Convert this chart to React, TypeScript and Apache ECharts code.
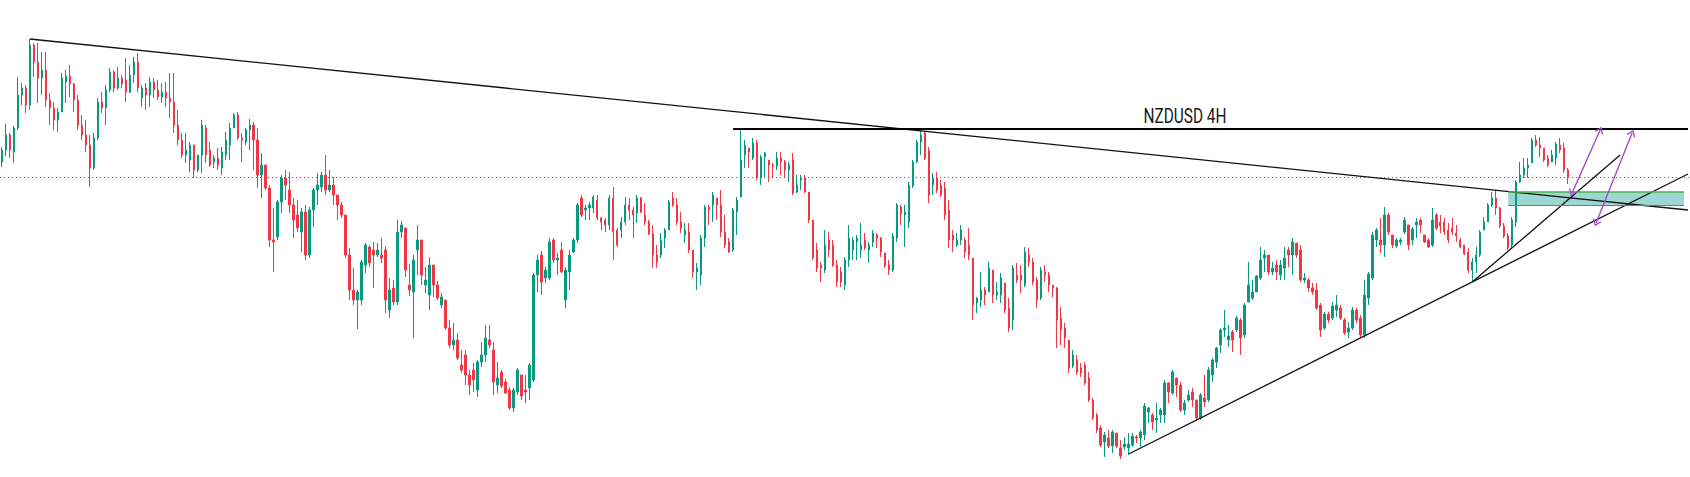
import React, { useEffect, useRef } from "react";
import * as echarts from "echarts";

// Chart title
const titleText = "NZDUSD 4H";

// 4H candles, prices in pips (price x 10000): [open, close, low, high]
const legA = [
  [6338,6350,6333,6353],[6350,6365,6344,6376],[6365,6350,6342,6367],[6348,6372,6337,6374],[6372,6405,6370,6423],
  [6405,6412,6395,6417],[6412,6395,6387,6415],[6395,6455,6390,6461],[6455,6438,6423,6457],[6438,6422,6397,6457],
  [6422,6430,6405,6448],[6430,6400,6393,6448],[6400,6392,6375,6407],[6392,6380,6370,6398],[6380,6388,6368,6392],
  [6388,6422,6388,6427],[6418,6424,6397,6430],[6424,6416,6403,6435],[6416,6400,6388,6417],[6400,6375,6370,6405],
  [6375,6365,6360,6385],[6365,6355,6348,6380],[6355,6332,6313,6365],[6332,6362,6330,6367],[6362,6398,6360,6402],
  [6398,6392,6387,6408],[6392,6410,6375,6415],[6410,6428,6408,6432],[6428,6412,6408,6430],[6412,6422,6410,6433],
  [6422,6416,6412,6425],[6420,6408,6398,6442],[6408,6425,6407,6435],[6425,6438,6417,6443],[6438,6412,6408,6447],
  [6402,6412,6393,6415],[6412,6405,6390,6417],[6405,6418,6393,6423],[6418,6410,6402,6422],[6410,6403,6400,6420],
  [6403,6408,6397,6417],[6408,6402,6393,6418],[6402,6398,6382,6427],[6398,6375,6367,6427],[6375,6360,6355,6390],
  [6360,6345,6342,6367],[6345,6350,6337,6367],[6340,6355,6328,6358],[6355,6330,6322,6355],[6330,6345,6328,6345],
];
const legB = [
  [6345,6375,6327,6380],[6372,6345,6337,6375],[6350,6335,6333,6358],[6338,6342,6332,6345],[6342,6335,6330,6352],
  [6332,6348,6325,6353],[6345,6360,6340,6368],[6355,6372,6340,6377],[6372,6385,6372,6387],[6385,6362,6360,6388],
  [6362,6360,6338,6367],[6358,6370,6355,6372],[6370,6375,6350,6381],[6375,6360,6330,6378],[6360,6325,6312,6372],
  [6325,6335,6302,6347],[6335,6312,6310,6335],[6312,6260,6253,6315],[6260,6258,6228,6292],[6263,6298,6260,6300],
  [6298,6322,6287,6325],[6322,6315,6300,6330],[6310,6295,6287,6328],[6295,6280,6262,6302],[6285,6272,6268,6300],
  [6268,6288,6248,6292],[6288,6245,6240,6295],[6245,6290,6242,6293],[6290,6310,6273,6312],[6310,6315,6295,6327],
  [6313,6325,6308,6328],[6325,6310,6305,6345],[6310,6315,6308,6330],[6315,6305,6295,6323],[6305,6295,6280,6305],
  [6295,6285,6282,6298],[6285,6245,6242,6285],[6245,6210,6200,6252],[6210,6200,6195,6232],[6200,6208,6171,6210],
  [6200,6238,6195,6240],[6235,6255,6227,6257],[6253,6237,6233,6255],[6250,6245,6212,6258],[6245,6250,6243,6257],
  [6245,6242,6237,6262],[6250,6200,6187,6254],[6190,6210,6182,6222],[6212,6198,6195,6220],[6198,6268,6195,6280],
];
const legC = [
  [6268,6275,6262,6279],[6272,6230,6223,6272],[6215,6210,6204,6236],[6208,6240,6162,6245],[6250,6260,6225,6275],
  [6260,6225,6215,6260],[6215,6220,6207,6233],[6205,6235,6190,6243],[6235,6215,6203,6235],[6215,6202,6200,6219],
  [6195,6203,6192,6207],[6200,6172,6170,6200],[6172,6155,6152,6180],[6155,6160,6150,6177],[6160,6142,6140,6167],
  [6135,6130,6127,6150],[6145,6125,6115,6150],[6125,6115,6105,6130],[6130,6120,6108,6137],[6110,6138,6103,6140],
  [6138,6145,6133,6158],[6145,6162,6138,6175],[6160,6155,6152,6175],[6150,6118,6105,6158],[6115,6122,6107,6138],
  [6128,6114,6112,6130],[6118,6107,6106,6121],[6110,6092,6090,6113],[6092,6110,6088,6112],[6108,6130,6105,6132],
  [6125,6104,6100,6125],[6110,6108,6097,6125],[6112,6135,6100,6137],[6120,6225,6118,6227],[6225,6240,6208,6245],
  [6245,6218,6205,6249],[6222,6230,6217,6233],[6222,6258,6220,6262],[6260,6240,6237,6262],[6240,6242,6225,6247],
  [6250,6228,6227,6258],[6200,6230,6192,6233],[6228,6245,6210,6250],[6248,6260,6247,6262],[6260,6295,6257,6297],
  [6302,6285,6283,6305],[6290,6292,6280,6295],[6292,6295,6280,6298],[6292,6303,6287,6305],[6300,6282,6280,6305],
];
const legD = [
  [6282,6278,6270,6283],[6280,6275,6268,6282],[6275,6302,6270,6305],[6302,6268,6240,6313],[6270,6255,6253,6272],
  [6270,6278,6262,6283],[6278,6295,6275,6303],[6295,6290,6280,6302],[6290,6285,6262,6293],[6287,6302,6277,6305],
  [6302,6288,6287,6303],[6285,6278,6275,6297],[6278,6266,6265,6280],[6266,6245,6232,6275],[6245,6238,6232,6255],
  [6245,6260,6242,6267],[6262,6270,6252,6272],[6270,6298,6270,6300],[6302,6295,6293,6308],[6295,6278,6275,6302],
  [6278,6272,6267,6288],[6265,6270,6257,6277],[6268,6250,6247,6277],[6250,6228,6222,6250],[6228,6232,6210,6237],
  [6225,6262,6215,6265],[6262,6293,6253,6295],[6293,6290,6275,6295],[6295,6305,6278,6308],[6302,6295,6280,6302],
  [6295,6268,6263,6310],[6268,6255,6252,6285],[6258,6248,6247,6262],[6250,6290,6248,6292],[6288,6300,6265,6303],
  [6303,6340,6303,6370],[6345,6355,6332,6360],[6352,6348,6332,6352],[6342,6357,6340,6362],[6357,6322,6320,6360],
  [6322,6343,6315,6345],[6343,6347,6322,6348],[6340,6335,6318,6340],[6335,6334,6323,6337],[6334,6342,6330,6348],
  [6342,6338,6325,6348],[6338,6330,6322,6340],[6330,6335,6318,6338],[6340,6307,6305,6347],[6308,6315,6307,6325],
];
const legE = [
  [6320,6322,6310,6325],[6322,6308,6307,6325],[6308,6280,6277,6308],[6280,6242,6240,6280],[6250,6232,6228,6257],
  [6235,6232,6218,6238],[6230,6255,6227,6270],[6260,6250,6243,6268],[6255,6235,6233,6260],[6235,6218,6213,6240],
  [6228,6218,6213,6233],[6215,6240,6210,6243],[6240,6262,6233,6275],[6250,6260,6240,6263],[6258,6262,6240,6265],
  [6250,6255,6242,6277],[6260,6252,6250,6267],[6250,6255,6237,6258],[6258,6267,6253,6270],[6265,6262,6252,6267],
  [6262,6248,6243,6263],[6247,6234,6232,6247],[6235,6230,6225,6240],[6230,6264,6228,6267],[6262,6295,6258,6297],
  [6293,6286,6275,6295],[6285,6288,6253,6295],[6278,6315,6272,6318],[6314,6338,6312,6340],[6338,6358,6337,6360],
  [6358,6365,6345,6372],[6367,6342,6340,6368],[6350,6305,6297,6353],[6315,6322,6305,6327],[6322,6310,6307,6328],
  [6315,6305,6303,6320],[6312,6285,6280,6318],[6290,6260,6252,6300],[6265,6260,6248,6270],[6255,6260,6253,6267],
  [6260,6270,6255,6275],[6260,6248,6242,6263],[6255,6245,6240,6272],[6242,6195,6180,6242],[6197,6202,6187,6203],
  [6200,6210,6193,6228],[6210,6205,6195,6213],[6208,6232,6208,6238],[6230,6205,6197,6230],[6205,6208,6200,6218],
];
const legF = [
  [6205,6222,6197,6227],[6217,6190,6187,6217],[6192,6172,6168,6202],[6180,6232,6170,6235],[6225,6220,6217,6237],
  [6225,6220,6207,6235],[6215,6248,6213,6253],[6245,6238,6233,6252],[6238,6218,6215,6242],[6220,6200,6192,6223],
  [6202,6230,6200,6233],[6228,6225,6218,6235],[6225,6215,6208,6228],[6215,6212,6203,6215],[6212,6180,6152,6213],
  [6182,6170,6155,6193],[6172,6162,6152,6177],[6160,6132,6127,6160],[6134,6145,6132,6150],[6140,6128,6125,6145],
  [6132,6127,6123,6137],[6135,6117,6115,6138],[6122,6100,6098,6128],[6100,6082,6080,6102],[6085,6070,6067,6087],
  [6072,6055,6053,6075],[6058,6065,6043,6068],[6062,6054,6052,6070],[6054,6068,6047,6070],[6067,6054,6052,6067],
  [6052,6044,6041,6060],[6053,6056,6050,6063],[6052,6056,6045,6067],[6055,6064,6053,6067],[6063,6062,6057,6065],
  [6062,6068,6053,6070],[6065,6094,6060,6097],[6088,6092,6077,6093],[6085,6078,6070,6087],[6080,6082,6067,6097],
  [6085,6090,6077,6092],[6085,6117,6077,6120],[6117,6108,6097,6118],[6107,6128,6105,6130],[6122,6115,6103,6122],
  [6115,6090,6088,6118],[6090,6097,6085,6100],[6100,6105,6098,6110],[6108,6100,6093,6112],[6100,6082,6080,6100],
];
const legG = [
  [6082,6105,6080,6107],[6102,6098,6093,6125],[6100,6130,6098,6133],[6125,6140,6118,6142],[6138,6152,6132,6153],
  [6155,6170,6147,6172],[6170,6172,6163,6190],[6160,6164,6153,6175],[6168,6160,6148,6170],[6170,6182,6168,6184],
  [6180,6162,6145,6182],[6165,6195,6162,6197],[6198,6215,6198,6238],[6202,6208,6200,6220],[6208,6224,6208,6225],
  [6222,6240,6220,6253],[6242,6245,6228,6250],[6245,6228,6225,6245],[6228,6232,6225,6238],[6235,6228,6220,6240],
  [6225,6235,6220,6240],[6232,6242,6220,6253],[6250,6245,6233,6253],[6245,6258,6225,6262],[6257,6245,6242,6257],
  [6250,6220,6218,6255],[6220,6222,6217,6227],[6220,6212,6208,6222],[6212,6208,6205,6217],[6210,6192,6190,6217],
  [6195,6170,6163,6197],[6172,6186,6170,6188],[6186,6180,6177,6188],[6182,6194,6180,6198],[6190,6195,6183,6205],
  [6192,6182,6180,6195],[6180,6167,6165,6182],[6168,6172,6162,6178],[6172,6190,6170,6193],[6190,6180,6177,6192],
  [6182,6165,6162,6185],[6165,6205,6162,6220],[6202,6226,6195,6228],[6222,6265,6220,6268],[6260,6270,6253,6272],
  [6260,6255,6247,6282],[6255,6285,6243,6293],[6285,6268,6265,6287],[6265,6255,6252,6265],[6254,6260,6252,6262],
];
const legH = [
  [6258,6260,6255,6262],[6268,6280,6266,6283],[6275,6255,6250,6275],[6260,6271,6255,6273],[6275,6278,6262,6282],
  [6280,6275,6267,6282],[6265,6258,6257,6265],[6260,6253,6252,6262],[6255,6280,6253,6292],[6285,6272,6270,6287],
  [6278,6274,6267,6285],[6278,6268,6265,6282],[6270,6260,6257,6277],[6272,6268,6265,6282],[6267,6264,6258,6275],
  [6260,6253,6252,6262],[6255,6246,6245,6255],[6248,6230,6227,6252],[6230,6238,6218,6242],[6238,6245,6227,6253],
  [6245,6268,6243,6270],[6270,6278,6270,6283],[6278,6295,6278,6297],[6295,6302,6293,6308],[6302,6292,6285,6310],
  [6292,6274,6272,6293],[6274,6264,6262,6277],[6264,6252,6250,6267],[6255,6280,6252,6283],[6278,6318,6273,6320],
  [6318,6325,6317,6338],[6325,6332,6322,6342],[6332,6335,6322,6342],[6337,6360,6337,6362],[6360,6355,6353,6365],
  [6355,6352,6343,6363],[6352,6340,6338,6352],[6342,6335,6333,6345],[6338,6345,6338,6350],[6342,6356,6335,6358],
  [6355,6350,6347,6362],[6352,6330,6327,6357],[6330,6323,6316,6332],
];

// Empty future bars to the right of the last candle
const futureBars = 30;

// Drawings: [candle index, price in pips]
const descendingTrend = [[7, 6461], [422, 6290]];
const resistanceLine = [[183, 6371], [422, 6371]];
const risingTrend = [[282, 6046], [422, 6326]];
const steepTrend = [[368, 6218], [405, 6345]];
const demandZone = [[377, 6308], [421, 6295]];
const targetArrows = [
  [[393, 6307], [400, 6370]],
  [[399, 6277], [408, 6367]],
];
const lastPrice = 6323;

const UP = "#089981";
const DOWN = "#f23645";
const ARROW = "#a64bc9";
const arrowHead = "path://M5,0 L10,7 L8.7,7.9 L5,2.5 L1.3,7.9 L0,7 Z";

export default function App() {
  const ref = useRef<HTMLDivElement>(null);

  useEffect(() => {
    if (!ref.current) return;
    const chart = echarts.init(ref.current, undefined, { renderer: "svg" });
    const candles = [...legA, ...legB, ...legC, ...legD, ...legE, ...legF, ...legG, ...legH];
    const total = candles.length + futureBars;
    const categories = Array.from({ length: total }, (_, i) => String(i));

    const seg = (pts: number[][], color: string, width: number) => [
      { coord: pts[0], lineStyle: { color, width, type: "solid" } },
      { coord: pts[1] },
    ];

    const arrows = targetArrows.map((pts) => [
      {
        coord: pts[0],
        symbol: arrowHead,
        symbolSize: [9, 7],
        lineStyle: { color: ARROW, width: 1.4, type: "solid" },
        itemStyle: { color: ARROW },
      },
      { coord: pts[1], symbol: arrowHead, symbolSize: [9, 7], itemStyle: { color: ARROW } },
    ]);

    chart.setOption({
      animation: false,
      backgroundColor: "#ffffff",
      grid: { left: 0, top: 0, width: 4 * total, height: 477, containLabel: false },
      xAxis: {
        type: "category",
        data: categories,
        boundaryGap: true,
        show: false,
      },
      yAxis: {
        type: "value",
        min: 6023,
        max: 6500,
        show: false,
        splitLine: { show: false },
      },
      graphic: [
        {
          type: "text",
          x: 1185,
          y: 116,
          scaleX: 0.77,
          style: {
            text: titleText,
            x: 0,
            y: 0,
            align: "center",
            verticalAlign: "middle",
            fontFamily: "Roboto",
            fontSize: 20,
            fill: "#1a1a1a",
          },
        },
      ],
      series: [
        {
          type: "candlestick",
          data: candles,
          barWidth: 1.9,
          itemStyle: {
            color: UP,
            color0: DOWN,
            borderColor: UP,
            borderColor0: DOWN,
            borderWidth: 1,
          },
          silent: true,
          markArea: {
            silent: true,
            itemStyle: { color: "rgba(38,166,154,0.45)" },
            data: [[{ coord: demandZone[0] }, { coord: demandZone[1] }]],
          },
          markLine: {
            silent: true,
            symbol: ["none", "none"],
            label: { show: false },
            emphasis: { disabled: true },
            data: [
              { yAxis: lastPrice, lineStyle: { color: DOWN, width: 1, type: [1.2, 2.8] } },
              seg(descendingTrend, "#111111", 1.3),
              seg(resistanceLine, "#000000", 2.2),
              seg(risingTrend, "#111111", 1.3),
              seg(steepTrend, "#111111", 1.3),
              seg([demandZone[0], [demandZone[1][0], demandZone[0][1]]], "#4caf50", 1.5),
              seg([[demandZone[0][0], demandZone[1][1]], demandZone[1]], "#2e9d74", 1.2),
              ...arrows,
            ],
          },
        },
      ],
    });

    return () => chart.dispose();
  }, []);

  return (
    <div
      ref={ref}
      style={{ position: "fixed", left: 0, top: 0, width: 1690, height: 477, background: "#fff" }}
    />
  );
}
